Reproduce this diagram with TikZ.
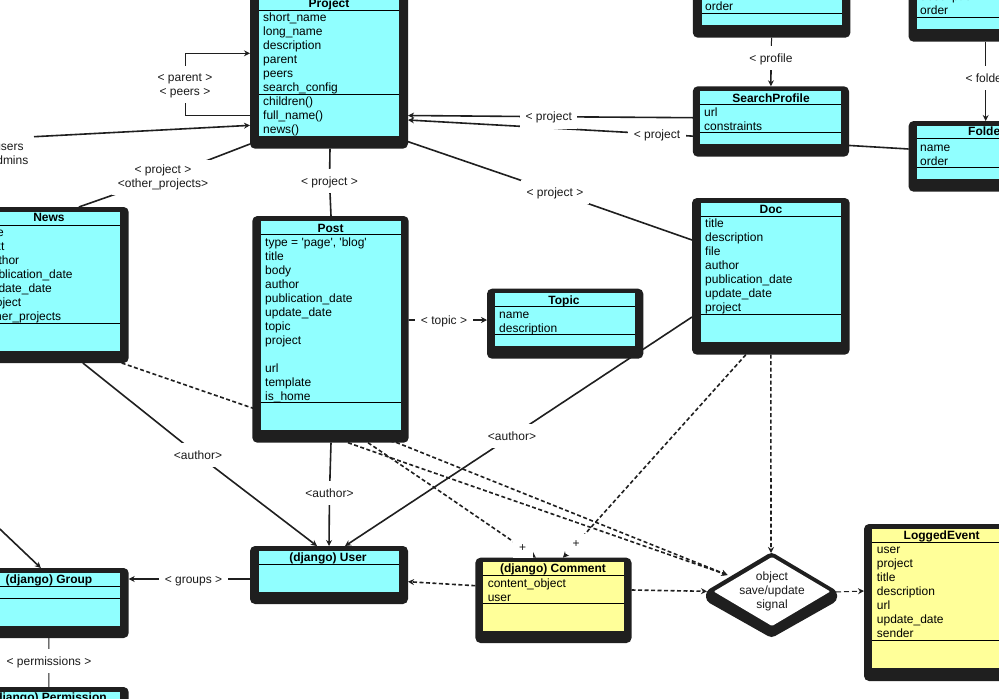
\documentclass[tikz,border=0pt]{standalone}
\usepackage{fontspec}
\setmainfont{Liberation Sans}
\usetikzlibrary{arrows.meta,shapes.geometric}
\pgfdeclarelayer{edges}
\pgfsetlayers{edges,main}
\definecolor{boxdark}{HTML}{1F1F1F}
\definecolor{cyanfill}{HTML}{90FFFF}
\definecolor{yellowfill}{HTML}{FFFF99}
\definecolor{labelink}{HTML}{1A1A1A}
\tikzset{
  classouter/.style={rectangle,fill=boxdark,rounded corners=5pt,inner sep=0pt,outer sep=0pt},
  classinner/.style={rectangle,inner sep=0pt,outer sep=0pt},
  classtitle/.style={font=\fontsize{12}{14}\selectfont\bfseries,inner sep=0pt,anchor=base,text=black},
  rowtext/.style={font=\fontsize{12}{14}\selectfont,inner sep=0pt,anchor=base west,text=black},
  classrule/.style={line width=0.9pt,black},
  lab/.style={font=\fontsize{12}{14}\selectfont,fill=white,inner xsep=5.5pt,inner ysep=5pt,text=labelink,text height=11pt,text depth=3pt},
  labtwo/.style={font=\fontsize{12}{14}\selectfont,fill=white,inner xsep=5.5pt,inner ysep=5pt,text=labelink,align=center},
  plus/.style={font=\fontsize{12}{14}\selectfont,fill=white,inner sep=0pt,minimum width=20pt,minimum height=20pt,text=labelink},
  edge/.style={line width=1.6pt,color=boxdark},
  thinedge/.style={line width=1pt,color=boxdark},
  dep/.style={line width=1.6pt,color=boxdark,dash pattern=on 4pt off 2.5pt},
  thindep/.style={line width=1pt,color=boxdark,dash pattern=on 5pt off 3pt},
  tip/.style={-{Stealth[length=6pt,width=6pt]}}
}
\def\outerbox#1(#2,#3,#4,#5){\pgfmathsetmacro\bw{#4-(#2)}\pgfmathsetmacro\bh{#5-(#3)}\pgfmathsetmacro\bx{(#2+#4)/2}\pgfmathsetmacro\by{(#3+#5)/2}\node[classouter,minimum width=\bw pt,minimum height=\bh pt] (#1) at (\bx,\by) {};}
\def\innerbox#1#2(#3,#4,#5,#6){\pgfmathsetmacro\bw{#5-(#3)}\pgfmathsetmacro\bh{#6-(#4)}\pgfmathsetmacro\bx{(#3+#5)/2}\pgfmathsetmacro\by{(#4+#6)/2}\node[classinner,fill=#2,minimum width=\bw pt,minimum height=\bh pt] (#1) at (\bx,\by) {};}
\newcommand\rowlist[4]{\foreach \rowitem [count=\rowidx from 0] in {#4} {\pgfmathsetmacro\yy{#3+14*\rowidx}\node[rowtext] (#1-\rowidx) at (#2,\yy) {\rowitem};}}
\newcommand\rulesat[3]{\draw[classrule] (#1,#3) -- (#2,#3);}
\begin{document}
\begin{tikzpicture}[x=1pt,y=-1pt]
\useasboundingbox (0,0) rectangle (999,699);
% Project
\outerbox{project}(250,-14,408,148.7)
\innerbox{projectin}{cyanfill}(259,-9,399,136)
\node[classtitle] (projectt) at (329,7) {Project};
\rulesat{259}{399}{10.5}\rulesat{259}{399}{94.7}
\rowlist{projectrow}{263}{21}{short\_name,long\_name,description,parent,peers,search\_config,children(),full\_name(),news()}
% News
\outerbox{news}(-31,207,128.7,363)
\innerbox{newsin}{cyanfill}(-22,212,120,351)
\node[classtitle] (newst) at (49,221.5) {News};
\rulesat{-22}{120}{225}\rulesat{-22}{120}{323}
\rowlist{newsrow}{-15}{236}{title,text,author,publication\_date,update\_date,project,other\_projects}
% Post
\outerbox{post}(252.3,216,408.7,442.7)
\innerbox{postin}{cyanfill}(261,221,401,430)
\node[classtitle] (postt) at (330.5,232) {Post};
\rulesat{261}{401}{234.3}\rulesat{261}{401}{402.3}
\rowlist{postrow}{265}{246}{type = \textquotesingle page\textquotesingle{}\char44{} \textquotesingle blog\textquotesingle,title,body,author,publication\_date,update\_date,topic,project}
\rowlist{postrowb}{265}{372}{url,template,is\_home}
% Topic
\outerbox{topic}(487,288.7,643.3,358.7)
\innerbox{topicin}{cyanfill}(495,293,635,346)
\node[classtitle] (topict) at (564,304) {Topic};
\rulesat{495}{635}{306.3}\rulesat{495}{635}{334.3}
\rowlist{topicrow}{499}{318}{name,description}
% Doc
\outerbox{doc}(692,198,849.7,354.7)
\innerbox{docin}{cyanfill}(701,203,841,342)
\node[classtitle] (doct) at (771,213) {Doc};
\rulesat{701}{841}{216.3}\rulesat{701}{841}{314.3}
\rowlist{docrow}{705}{227}{title,description,file,author,publication\_date,update\_date,project}
% profile box (top)
\outerbox{profile}(692.8,-50,850.4,37.7)
\innerbox{profilein}{cyanfill}(701.6,-45,841.6,25)
\rulesat{701.6}{841.6}{13.3}
\rowlist{profilerow}{705}{10}{order}
% SearchProfile
\outerbox{search}(692.8,86.3,849,156.7)
\innerbox{searchin}{cyanfill}(700.4,90.7,841,144)
\node[classtitle] (searcht) at (771,102) {SearchProfile};
\rulesat{700.4}{841}{104.3}\rulesat{700.4}{841}{132.3}
\rowlist{searchrow}{704}{116}{url,constraints}
% upper folder box
\outerbox{folderup}(908.6,-50,1064,41.7)
\innerbox{folderupin}{cyanfill}(917,-45,1055,29)
\rulesat{917}{1055}{17.3}
\rowlist{folderuprow}{920}{0}{description,order}
% Folder
\outerbox{folder}(908.6,121,1064,191.7)
\innerbox{folderin}{cyanfill}(917,126,1055,179)
\node[classtitle] (foldert) at (986.5,135) {Folder};
\rulesat{917}{1055}{138.7}\rulesat{917}{1055}{167.7}
\rowlist{folderrow}{920}{151}{name,order}
% User
\outerbox{user}(250,546,408,604)
\innerbox{userin}{cyanfill}(259,551,399,592)
\node[classtitle] (usert) at (328,561) {(django) User};
\rulesat{259}{399}{564}
% Group
\outerbox{group}(-31,568,128.7,638)
\innerbox{groupin}{cyanfill}(-22,573,120,626)
\node[classtitle] (groupt) at (49,583) {(django) Group};
\rulesat{-22}{120}{586}\rulesat{-22}{120}{598}
% Permission
\outerbox{perm}(-31,687,128.7,760)
\innerbox{permin}{cyanfill}(-22,692,120,750)
\node[classtitle] (permt) at (49,701) {(django) Permission};
% Comment
\outerbox{comment}(475.4,557.7,631.5,643)
\innerbox{commentin}{yellowfill}(483,562,623.5,631)
\node[classtitle] (commentt) at (553,572) {(django) Comment};
\rulesat{483}{623.5}{575}\rulesat{483}{623.5}{603}
\rowlist{commentrow}{487.6}{587}{content\_object,user}
% LoggedEvent
\outerbox{logged}(864,524,1020,681)
\innerbox{loggedin}{yellowfill}(872,529,1012,668)
\node[classtitle] (loggedt) at (941.7,539) {LoggedEvent};
\rulesat{872}{1012}{542}\rulesat{872}{1012}{640}
\rowlist{loggedrow}{876.7}{553}{user,project,title,description,url,update\_date,sender}
% signal diamond
\node[diamond,fill=boxdark,inner sep=0pt,outer sep=0pt,aspect=1.536,minimum width=129pt,minimum height=84pt] (signal) at (771.5,595) {};
\fill[boxdark,rounded corners=4pt] (771.5,552) -- (837,591) -- (837,601) -- (771.5,638) -- (706,601) -- (706,591) -- cycle;
\node[diamond,fill=white,rounded corners=1pt,inner sep=0pt,outer sep=0pt,aspect=1.69,minimum width=116.5pt,minimum height=69pt] (signalin) at (772,591.5) {};
\node[font=\fontsize{12}{14}\selectfont,align=center,inner sep=0pt,text=labelink] (signaltext) at (772,591.5) {object\\save/update\\signal};
% labels
\node[labtwo] (lparent) at (185,86) {< parent >\\< peers >};
\node[labtwo] (lusers) at (9,154) {users\\admins};
\node[labtwo] (lother) at (163,177.5) {< project >\\<other\_projects>};
\node[lab] (lpostp) at (329.5,181) {< project >};
\node[lab] (lsearchp) at (548.7,116.7) {< project};
\node[lab] (lfolderp) at (657,134) {< project};
\node[lab] (ldocp) at (555,192) {< project >};
\node[lab] (lprofile) at (771,58) {< profile};
\node[lab] (lfolder) at (985.7,78) {< folder};
\node[lab] (ltopic) at (444,320) {< topic >};
\node[lab] (lnewsa) at (198,455) {<author>};
\node[lab] (lposta) at (329.5,493) {<author>};
\node[lab] (ldoca) at (512,436) {<author>};
\node[lab] (lgroups) at (193.5,579) {< groups >};
\node[lab] (lperm) at (49,661) {< permissions >};
\node[plus] (lplusa) at (522.7,548) {+};
\node[plus] (lplusb) at (576,544) {+};
\coordinate (usersend) at (34,136.7);
\coordinate (groupsource) at (-5,524.4);
\begin{pgfonlayer}{edges}
\fill[white] (0,0) rectangle (999,699);
% self loop
\draw[thinedge,tip] ([yshift=3pt]lparent.north) |- ([yshift=14.05pt]project.west);
\draw[thinedge] (lparent) |- ([yshift=-48pt]project.west);
\draw[edge,tip] (usersend) -- ([yshift=-58pt]project.west);
\draw[edge] ([yshift=4.7pt]project.south west) -- (lother.center) -- ([xshift=30pt]news.north);
\draw[edge] ([xshift=1pt]project.south) -- (lpostp.center) -- ([xshift=0.5pt]post.north);
\draw[edge,tip] ([yshift=3.8pt]search.west) -- (lsearchp.center) -- ([yshift=-48.15pt]project.east);
\draw[edge,tip] ([yshift=7.35pt]folder.west) -- (lfolderp.center) -- ([yshift=-52.65pt]project.east);
\draw[edge] ([yshift=-74.3pt]project.east) -- (ldocp.center) -- ([yshift=36.35pt]doc.west);
\draw[thinedge] (profile.south) -- (lprofile.center);
\draw[edge,tip] (lprofile.center) -- (search.north);
\draw[thinedge] (folderup.south -| lfolder.center) -- (lfolder.center);
\draw[thinedge,tip] (lfolder.center) -- (folder.north -| lfolder.center);
\draw[edge,tip] ([yshift=9.35pt]post.east) -- (ltopic.center) -- ([yshift=3.7pt]topic.west);
\draw[edge,tip] ([xshift=34pt]news.south) -- (lnewsa.center) -- ([xshift=-12pt]user.north);
\draw[edge,tip] ([xshift=0.5pt]post.south) -- (lposta.center) -- (user.north);
\draw[edge,tip] ([yshift=-40.65pt]doc.west) -- (ldoca.center) -- ([xshift=16pt]user.north);
\draw[edge,tip] (groupsource) -- ([xshift=-8pt]group.north);
\draw[edge,tip] ([yshift=-4pt]user.west) -- (lgroups.center) -- ([yshift=24pt]group.east);
\draw[thinedge] (group.south) -- (lperm.center) -- (perm.north);
% dependencies
\draw[dep,tip] ([xshift=-7pt]news.south east) -- (252.3,408) -- (397,442.7) -- ([xshift=-44pt,yshift=20pt]signal.center);
\draw[dep,tip] ([xshift=17.5pt]post.south) -- (400,461) -- ([xshift=-44pt,yshift=20pt]signal.center);
\draw[dep,tip] ([xshift=37.5pt]post.south) -- (435,488) -- (lplusa.center) -- ([xshift=-17.5pt]comment.north);
\draw[dep,tip] ([xshift=-25pt]doc.south) -- (lplusb.center) -- ([xshift=9.5pt]comment.north);
\draw[dep,tip] (doc.south) -- ([xshift=-0.5pt]signal.north);
\draw[dep,tip] ([yshift=14.65pt]comment.west) -- ([yshift=-6.7pt]user.east);
\draw[dep,tip] ([yshift=10.35pt]comment.east) -- ([yshift=3.7pt]signal.west);
\draw[thindep,tip] ([yshift=3pt]signal.east) -- ([yshift=11.5pt]logged.west);
\end{pgfonlayer}
\end{tikzpicture}
\end{document}
